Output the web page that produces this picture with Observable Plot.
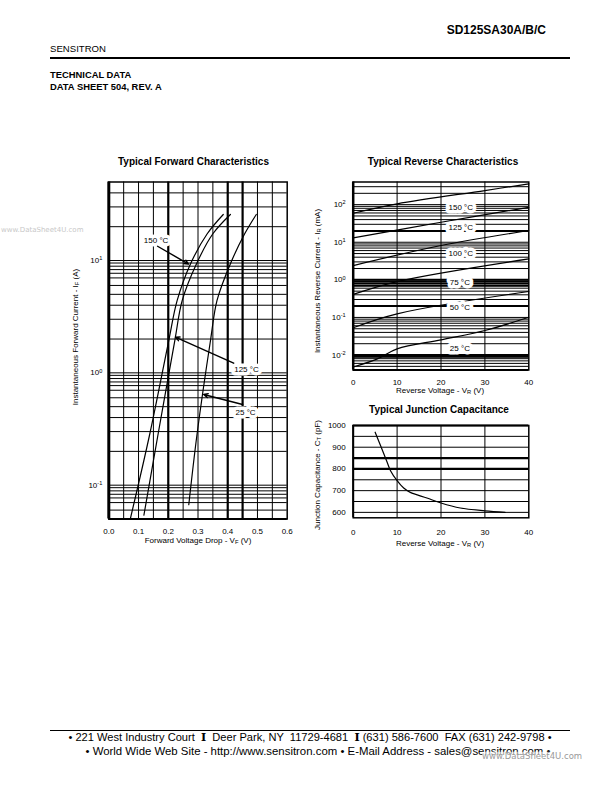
<!DOCTYPE html>
<html><head><meta charset="utf-8">
<script src="https://cdn.jsdelivr.net/npm/d3@7"></script>
<script src="https://cdn.jsdelivr.net/npm/@observablehq/plot@0.6"></script>
<style>
body{margin:0;background:#fff;}
#page{position:relative;width:612px;height:792px;font-family:Arial,"Liberation Sans",Helvetica,sans-serif;color:#000;overflow:hidden;background:#fff;}
.t{position:absolute;white-space:nowrap;line-height:1;z-index:5;}
.c{transform:translate(-50%,-50%);}
.l{transform:translate(0,-50%);}
.r{transform:translate(-100%,-50%);}
.rot{transform:translate(-50%,-50%) rotate(-90deg);}
.b{font-weight:bold;}
sub{font-size:72%;vertical-align:-0.25em;line-height:0;}
.hr{position:absolute;background:#000;}
.chart{position:absolute;z-index:1;}
.sep{font-family:"DejaVu Serif","Liberation Serif",serif;font-weight:bold;}
.wm{color:#c8c8c8;font-family:"DejaVu Sans",sans-serif;}
</style></head>
<body><div id="page">
<div class="t r b" style="left:546px;top:30px;font-size:12px;">SD125SA30A/B/C</div>
<div class="t l" style="left:50px;top:49px;font-size:9.6px;">SENSITRON</div>
<div class="hr" style="left:50px;top:56.5px;width:520px;height:2px;"></div>
<div class="t l b" style="left:50px;top:75px;font-size:9.4px;">TECHNICAL DATA</div>
<div class="t l b" style="left:50px;top:86.5px;font-size:9.4px;">DATA SHEET 504, REV. A</div>
<div class="t l wm" style="left:1px;top:230px;font-size:7px;">www.DataSheet4U.com</div>

<div class="t c b" style="left:193.5px;top:162px;font-size:10px;">Typical Forward Characteristics</div>
<div class="t c b" style="left:443px;top:162px;font-size:10px;">Typical Reverse Characteristics</div>
<div class="t c b" style="left:439px;top:410px;font-size:10px;">Typical Junction Capacitance</div>

<div class="t c" style="left:198px;top:541px;font-size:8px;">Forward Voltage Drop - V<sub>F</sub> (V)</div>
<div class="t rot" style="left:76px;top:337px;font-size:8px;">Instantaneous Forward Current - I<sub>F</sub> (A)</div>
<div class="t c" style="left:440px;top:391px;font-size:8px;">Reverse Voltage - V<sub>R</sub> (V)</div>
<div class="t rot" style="left:318px;top:281px;font-size:8px;">Instantaneous Reverse Current - I<sub>R</sub> (mA)</div>
<div class="t c" style="left:440px;top:544px;font-size:8px;">Reverse Voltage - V<sub>R</sub> (V)</div>
<div class="t rot" style="left:318px;top:475px;font-size:8px;">Junction Capacitance - C<sub>T</sub> (pF)</div>

<div class="hr" style="left:50px;top:729.5px;width:520px;height:1.3px;"></div>
<div class="t c" style="left:310px;top:738px;font-size:11.1px;">• 221 West Industry Court &nbsp;<span class="sep">I</span>&nbsp; Deer Park, NY &nbsp;11729-4681 &nbsp;<span class="sep">I</span> (631) 586-7600 &nbsp;FAX (631) 242-9798 •</div>
<div class="t c" style="left:318px;top:752px;font-size:11.4px;">• World Wide Web Site - http://www.sensitron.com • E-Mail Address - sales@sensitron.com •</div>
<div class="t l wm" style="left:482px;top:756px;font-size:8.5px;color:#9a9a9a;background:rgba(255,255,255,0.6);z-index:6;">www.DataSheet4U.com</div>
</div>
<script>
// ---------- Forward characteristics (V_F in V, I_F in A) ----------
const fwdV150 = [0.073, 0.138, 0.2017, 0.23, 0.275, 0.331, 0.385];
const fwdI150 = [0.051, 0.287, 1.94, 4.41, 9.36, 17.3, 25.7];
const fwdV125 = [0.118, 0.166, 0.222, 0.247, 0.295, 0.35, 0.409];
const fwdI125 = [0.054, 0.287, 1.94, 4.41, 9.36, 17.3, 25.7];
const fwdV25 = [0.269, 0.297, 0.342, 0.364, 0.409, 0.457, 0.496];
const fwdI25 = [0.067, 0.287, 1.94, 4.41, 9.36, 17.3, 25.7];
const fwdNoteText = ["150 °C", "125 °C", "25 °C"];
const fwdNoteV = [0.159, 0.463, 0.46];
const fwdNoteI = [15.1, 1.07, 0.447];
const fwdArrowV1 = [0.164, 0.42, 0.45];
const fwdArrowI1 = [13.4, 1.22, 0.523];
const fwdArrowV2 = [0.268, 0.224, 0.319];
const fwdArrowI2 = [9.3, 2.08, 0.642];
const fwdXTicks = [0, 0.1, 0.2, 0.3, 0.4, 0.5, 0.6];
const fwdYTicks = [0.1, 1, 10];
const fwdXGrid = [0.05, 0.1, 0.15, 0.25, 0.3, 0.35, 0.5, 0.55];
const fwdXHeavy = [0.2, 0.4, 0.45];
const fwdYGrid = [0.06, 0.07, 0.077, 0.083, 0.089, 0.095, 0.1, 0.2, 0.3, 0.4, 0.5, 0.6, 0.7, 0.77, 0.83, 0.89, 0.95,
                  1, 2, 3, 4, 5, 6, 7, 7.7, 8.3, 8.9, 9.5, 10, 20, 30, 40];

// ---------- Reverse characteristics (V_R in V, I_R in mA) ----------
const rev150V = [0, 10, 30, 40];
const rev150I = [59, 105, 237, 357];
const rev125V = [0, 20, 40];
const rev125I = [13.1, 34, 85];
const rev100V = [0, 20, 40];
const rev100I = [2.4, 8.2, 20.5];
const rev75V = [0, 10, 40];
const rev75I = [0.41, 0.9, 3.6];
const rev50V = [0, 10, 40];
const rev50I = [0.053, 0.125, 0.49];
const rev25V = [0, 5.5, 10, 20, 30, 40];
const rev25I = [0.0048, 0.0079, 0.0146, 0.0254, 0.0449, 0.101];
const revNoteText = ["150 °C", "125 °C", "100 °C", "75 °C", "50 °C", "25 °C"];
const revNoteV = [24.5, 24.5, 24.5, 24.3, 24.3, 24.3];
const revNoteI = [85, 24.2, 4.9, 0.83, 0.18, 0.0154];
const revXTicks = [0, 10, 20, 30, 40];
const revYTicks = [0.01, 0.1, 1, 10, 100];
const revXGrid = [10, 20, 30];
const revYGrid = [0.005, 0.006, 0.007, 0.008, 0.009, 0.01, 0.02, 0.03, 0.04, 0.05, 0.06, 0.07, 0.08, 0.09,
                  0.1, 0.2, 0.3, 0.4, 0.5, 0.6, 0.7, 0.8, 0.9, 1, 2, 3, 4, 5, 6, 7, 8, 9,
                  10, 20, 30, 40, 50, 60, 70, 80, 90, 100, 200, 300];
const revYHeavy = [20, 1, 0.9, 0.8, 0.7, 0.2, 0.01, 0.009];

// ---------- Junction capacitance (V_R in V, C_T in pF) ----------
const capV = [5, 7.6, 8.5, 10, 11.5, 13, 16.8, 20, 24.4, 30, 34.6];
const capC = [969, 838, 792, 746, 712, 692, 666, 643, 620, 607, 600];
const capXTicks = [0, 10, 20, 30, 40];
const capYTicks = [600, 700, 800, 900, 1000];
const capXGrid = [10, 20, 30];
const capYGrid = [600, 650, 700, 750, 900, 950];
const capYHeavy = [800, 850, 1000];

// ---------- helpers ----------
const font = "Arial, 'Liberation Sans', Helvetica, sans-serif";
const toPts = (xs, ys) => xs.map((x, k) => ({x, y: ys[k]}));
const notes = (t, x, y) => t.map((s, k) => ({s, x: x[k], y: y[k]}));
const arrows = (x1, y1, x2, y2) => x1.map((v, k) => ({x1: v, y1: y1[k], x2: x2[k], y2: y2[k]}));
const supFmt = d => "10^" + Math.round(Math.log10(d));
function superscripts(svg) {
  d3.select(svg).selectAll('[aria-label^="y-axis"] text').each(function () {
    const parts = this.textContent.split("^");
    if (parts.length < 2) return;
    const t = d3.select(this);
    t.text(parts[0]);
    t.append("tspan").attr("dy", "-0.5em").attr("font-size", "70%").text(parts[1]);
  });
}
function place(svg, left, top) {
  svg.classList.add("chart");
  svg.style.left = left + "px";
  svg.style.top = top + "px";
  document.getElementById("page").appendChild(svg);
}
const lineStyle = {stroke: "black", strokeWidth: 1};

// ---------- Forward chart ----------
const fwd = Plot.plot({
  width: 240, height: 390,
  marginLeft: 48.3, marginRight: 13.3, marginTop: 11.5, marginBottom: 41.5,
  style: {fontFamily: font, fontSize: "8px", background: "transparent", color: "black", overflow: "visible"},
  x: {domain: [0, 0.6], ticks: fwdXTicks, tickFormat: d3.format(".1f"), tickSize: 0, tickPadding: 9.5, label: null},
  y: {type: "log", domain: [0.05, 50], ticks: fwdYTicks, tickFormat: supFmt, tickSize: 0, tickPadding: 6.5, label: null},
  marks: [
    Plot.ruleY(fwdYGrid, {...lineStyle}),
    Plot.ruleX(fwdXGrid, {...lineStyle}),
    Plot.ruleX(fwdXHeavy, {stroke: "black", strokeWidth: 2.2}),
    Plot.frame({stroke: "black", strokeWidth: 1.5}),
    Plot.ruleX([0], {stroke: "black", strokeWidth: 3}),
    Plot.ruleY([0.05], {stroke: "black", strokeWidth: 2}),
    Plot.line(toPts(fwdV150, fwdI150), {x: "x", y: "y", curve: "catmull-rom", stroke: "black", strokeWidth: 1.2}),
    Plot.line(toPts(fwdV125, fwdI125), {x: "x", y: "y", curve: "catmull-rom", stroke: "black", strokeWidth: 1.2}),
    Plot.line(toPts(fwdV25, fwdI25), {x: "x", y: "y", curve: "catmull-rom", stroke: "black", strokeWidth: 1.2}),
    Plot.text(notes(fwdNoteText, fwdNoteV, fwdNoteI), {x: "x", y: "y", text: "s", fontSize: 8, fill: "black", stroke: "white", strokeWidth: 7}),
    Plot.arrow(arrows(fwdArrowV1, fwdArrowI1, fwdArrowV2, fwdArrowI2), {x1: "x1", y1: "y1", x2: "x2", y2: "y2", stroke: "black", strokeWidth: 1.4, headLength: 5, headAngle: 50})
  ]
});
superscripts(fwd);
place(fwd, 60, 170);

// ---------- Reverse chart ----------
const revLine = (v, i) => Plot.line(toPts(v, i), {x: "x", y: "y", curve: "catmull-rom", stroke: "black", strokeWidth: 1.2});
const rev = Plot.plot({
  width: 240, height: 220,
  marginLeft: 52.7, marginRight: 11.7, marginTop: 11.5, marginBottom: 20.5,
  style: {fontFamily: font, fontSize: "8px", background: "transparent", color: "black", overflow: "visible"},
  x: {domain: [0, 40], ticks: revXTicks, tickSize: 0, tickPadding: 9, label: null},
  y: {type: "log", domain: [0.004, 400], ticks: revYTicks, tickFormat: supFmt, tickSize: 0, tickPadding: 7.5, label: null},
  marks: [
    Plot.ruleY(revYGrid, {...lineStyle}),
    Plot.ruleY(revYHeavy, {stroke: "black", strokeWidth: 2}),
    Plot.ruleX(revXGrid, {...lineStyle}),
    Plot.frame({stroke: "black", strokeWidth: 1.5}),
    Plot.ruleX([0], {stroke: "black", strokeWidth: 2.5}),
    Plot.ruleY([0.004], {stroke: "black", strokeWidth: 2}),
    revLine(rev150V, rev150I), revLine(rev125V, rev125I), revLine(rev100V, rev100I),
    revLine(rev75V, rev75I), revLine(rev50V, rev50I), revLine(rev25V, rev25I),
    Plot.text(notes(revNoteText, revNoteV, revNoteI), {x: "x", y: "y", text: "s", fontSize: 8, fill: "black", stroke: "white", strokeWidth: 7})
  ]
});
superscripts(rev);
place(rev, 300, 170);

// ---------- Capacitance chart ----------
const cap = Plot.plot({
  width: 240, height: 130,
  marginLeft: 52.7, marginRight: 11.7, marginTop: 10, marginBottom: 27.7,
  style: {fontFamily: font, fontSize: "8px", background: "transparent", color: "black", overflow: "visible"},
  x: {domain: [0, 40], ticks: capXTicks, tickSize: 0, tickPadding: 12, label: null},
  y: {domain: [575, 1000], ticks: capYTicks, tickFormat: d3.format("d"), tickSize: 0, tickPadding: 7.5, label: null},
  marks: [
    Plot.ruleY(capYGrid, {...lineStyle}),
    Plot.ruleY(capYHeavy, {stroke: "black", strokeWidth: 2.2}),
    Plot.ruleX(capXGrid, {...lineStyle}),
    Plot.frame({stroke: "black", strokeWidth: 1.5}),
    Plot.ruleX([0], {stroke: "black", strokeWidth: 2}),
    Plot.line(toPts(capV, capC), {x: "x", y: "y", curve: "catmull-rom", stroke: "black", strokeWidth: 1.2})
  ]
});
place(cap, 300, 415);
</script>
</body></html>
